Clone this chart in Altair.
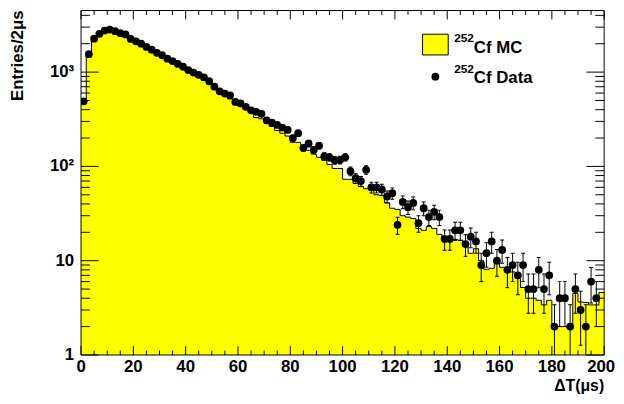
import math
import altair as alt
import pandas as pd

# ---- data (bins of 2 us, centres 1..199) ----
bin_centers = list(range(1, 200, 2))

data_counts = [
    490, 1550, 2260, 2550, 2760, 2830, 2720, 2590, 2510, 2250,
    2120, 2000, 1850, 1730, 1600, 1510, 1390, 1310, 1220, 1140,
    1050, 990, 935, 880, 800, 700, 625, 592, 568, 483,
    465, 428, 393, 379, 361, 308, 291, 275, 258, 244,
    200, 225, 157, 175, 150, 166, 128, 125, 116, 117,
    125, 89, 75, 70, 92, 60, 60, 57, 48, 52,
    24, 42, 37, 41, 25, 36, 29, 33, 29, 17,
    17, 21, 21, 15, 18, 16, 9, 12, 16, 10,
    13, 8, 9, 7, 9, 5, 5, 8, 5, 7,
    2, 4, 4, 2, 5, 3, 2, 6, 4, 0,
]

mc_counts = [
    470, 1480, 2150, 2450, 2620, 2680, 2600, 2480, 2380, 2230,
    2090, 1960, 1830, 1700, 1580, 1470, 1360, 1270, 1180, 1100,
    1020, 950, 880, 815, 750, 690, 600, 560, 520, 470,
    445, 410, 380, 330, 320, 290, 265, 240, 225, 210,
    180, 180, 150, 148, 135, 125, 116, 105, 95, 95,
    73, 73, 66, 61, 58, 56, 50, 49, 41, 36,
    35, 30, 29, 28, 22, 21, 23, 22, 19, 17.6,
    17.5, 16.8, 16.5, 15, 12, 13.4, 10, 8.1, 8.3, 10.4,
    8.5, 8, 7.6, 6.5, 5.2, 4, 4, 3.8, 3.4, 3.8,
    2, 2, 2, 2.1, 4.5, 3.65, 3.6, 3.4, 3.4, 4.6,
]

x_major = list(range(0, 201, 20))
x_labels = [str(v) for v in x_major]
x_minor = [v for v in range(0, 201, 5) if v % 20]
y_major = [1, 10, 100, 1000]
y_labels = ["1", "10", "10\u00b2", "10\u00b3"]
y_minor = [m * d for d in (1, 10, 100) for m in range(2, 10)] + [2000, 3000, 4000]

FONT = "Liberation Sans, Helvetica, Arial, sans-serif"
W, H = 530, 349
XS = alt.Scale(domain=[0, 200], nice=False, zero=False)
YS = alt.Scale(type="log", domain=[1, 4500], nice=False)

# ---- tables ----
mc_df = pd.DataFrame({
    "lo": [c - 1 for c in bin_centers] + [200],
    "mc": mc_counts + [mc_counts[-1]],
})
mc_df["base"] = 1

pts = pd.DataFrame({"x": bin_centers, "n": data_counts})
pts = pts[pts["n"] > 0].copy()
pts["ehi"] = pts["n"] + pts["n"].apply(math.sqrt)
pts["elo"] = pts["n"] - pts["n"].apply(math.sqrt)

one = alt.Data(values=[{"k": 0}])

# ---- histogram ----
area = alt.Chart(mc_df).mark_area(
    interpolate="step-after", color="#ffff00", opacity=1, clip=True
).encode(
    x=alt.X("lo:Q", scale=XS, axis=None),
    y=alt.Y("mc:Q", scale=YS, axis=None),
    y2=alt.Y2("base:Q"),
)

outline = alt.Chart(mc_df).mark_line(
    interpolate="step-after", color="black", strokeWidth=1, clip=True
).encode(
    x=alt.X("lo:Q", scale=XS, axis=None),
    y=alt.Y("mc:Q", scale=YS, axis=None),
)

# ---- data points with error bars ----
err = alt.Chart(pts).mark_rule(color="black", strokeWidth=1, clip=True).encode(
    x=alt.X("x:Q", scale=XS, axis=None),
    y=alt.Y("elo:Q", scale=YS, axis=None),
    y2="ehi:Q",
)
cap_hi = alt.Chart(pts).mark_tick(
    orient="horizontal", size=4, thickness=1, color="black", opacity=1, clip=True
).encode(x=alt.X("x:Q", scale=XS, axis=None), y=alt.Y("ehi:Q", scale=YS, axis=None))
cap_lo = alt.Chart(pts).mark_tick(
    orient="horizontal", size=4, thickness=1, color="black", opacity=1, clip=True
).encode(x=alt.X("x:Q", scale=XS, axis=None), y=alt.Y("elo:Q", scale=YS, axis=None))
dots = alt.Chart(pts).mark_point(
    filled=True, shape="circle", size=62, color="black", opacity=1, clip=True
).encode(x=alt.X("x:Q", scale=XS, axis=None), y=alt.Y("n:Q", scale=YS, axis=None))

# ---- frame ticks (inside, all four sides) ----
def xticks(vals, length):
    df = pd.DataFrame({"t": vals})
    b = alt.Chart(df).mark_rule(color="black", strokeWidth=1).encode(
        x=alt.X("t:Q", scale=XS, axis=None), y=alt.value(H), y2=alt.value(H - length))
    t = alt.Chart(df).mark_rule(color="black", strokeWidth=1).encode(
        x=alt.X("t:Q", scale=XS, axis=None), y=alt.value(0), y2=alt.value(length))
    return [b, t]

def yticks(vals, length):
    df = pd.DataFrame({"t": vals})
    l = alt.Chart(df).mark_rule(color="black", strokeWidth=1).encode(
        y=alt.Y("t:Q", scale=YS, axis=None), x=alt.value(0), x2=alt.value(length))
    r = alt.Chart(df).mark_rule(color="black", strokeWidth=1).encode(
        y=alt.Y("t:Q", scale=YS, axis=None), x=alt.value(W), x2=alt.value(W - length))
    return [l, r]

tick_layers = xticks(x_major, 9) + xticks(x_minor, 4.5) + yticks(y_major, 18) + yticks(y_minor, 9)

# ---- tick labels ----
xlab_df = pd.DataFrame({"t": x_major, "lab": x_labels})
xlab = alt.Chart(xlab_df.iloc[:-1]).mark_text(
    font=FONT, fontSize=17, fontWeight="bold", align="center", baseline="top", color="black"
).encode(x=alt.X("t:Q", scale=XS, axis=None), y=alt.value(H + 4), text="lab:N")
xlab_last = alt.Chart(xlab_df.iloc[-1:]).mark_text(
    font=FONT, fontSize=17, fontWeight="bold", align="center", baseline="top", color="black", dx=-3
).encode(x=alt.X("t:Q", scale=XS, axis=None), y=alt.value(H + 4), text="lab:N")
ylab = alt.Chart(pd.DataFrame({"t": y_major, "lab": y_labels})).mark_text(
    font=FONT, fontSize=17, fontWeight="bold", align="right", baseline="middle", color="black"
).encode(y=alt.Y("t:Q", scale=YS, axis=None), x=alt.value(-7), text="lab:N")

frame = alt.Chart(one).mark_rect(fillOpacity=0, stroke="black", strokeWidth=1).encode(
    x=alt.value(0), x2=alt.value(W), y=alt.value(0), y2=alt.value(H))

# ---- titles ----
xtitle = alt.Chart(one).mark_text(
    text="\u0394T(\u03bcs)", font=FONT, fontSize=16, fontWeight="bold",
    align="right", baseline="alphabetic", color="black"
).encode(x=alt.value(W), y=alt.value(385.5))
ytitle = alt.Chart(one).mark_text(
    text="Entries/2\u03bcs", font=FONT, fontSize=17, fontWeight="bold",
    align="right", baseline="alphabetic", angle=270, color="black"
).encode(x=alt.value(-59), y=alt.value(0))

# ---- legend ----
leg_box = alt.Chart(one).mark_rect(fill="#ffff00", stroke="black", strokeWidth=1).encode(
    x=alt.value(346), x2=alt.value(372), y=alt.value(24), y2=alt.value(45))
leg_dot = alt.Chart(one).mark_point(filled=True, shape="circle", size=62, color="black", opacity=1).encode(
    x=alt.value(359), y=alt.value(67))

def ltext(txt, x, y, size):
    return alt.Chart(one).mark_text(
        text=txt, font=FONT, fontSize=size, fontWeight="bold",
        align="left", baseline="alphabetic", color="black"
    ).encode(x=alt.value(x), y=alt.value(y))

legend = [
    leg_box, leg_dot,
    ltext("252", 378, 31.5, 12), ltext("Cf MC", 398, 42.7, 17),
    ltext("252", 378, 63.7, 12), ltext("Cf Data", 398, 73.7, 17),
]

chart = alt.layer(
    area, outline, err, cap_hi, cap_lo, dots, *tick_layers, frame,
    xlab, xlab_last, ylab, xtitle, ytitle, *legend
).properties(
    width=W, height=H,
    autosize=alt.AutoSizeParams(type="none"),
    padding={"left": 74, "top": 0, "right": 12, "bottom": 40},
    background="white",
).configure_view(stroke=None)

chart.save("out.html", embed_options={"renderer": "svg", "actions": False})
